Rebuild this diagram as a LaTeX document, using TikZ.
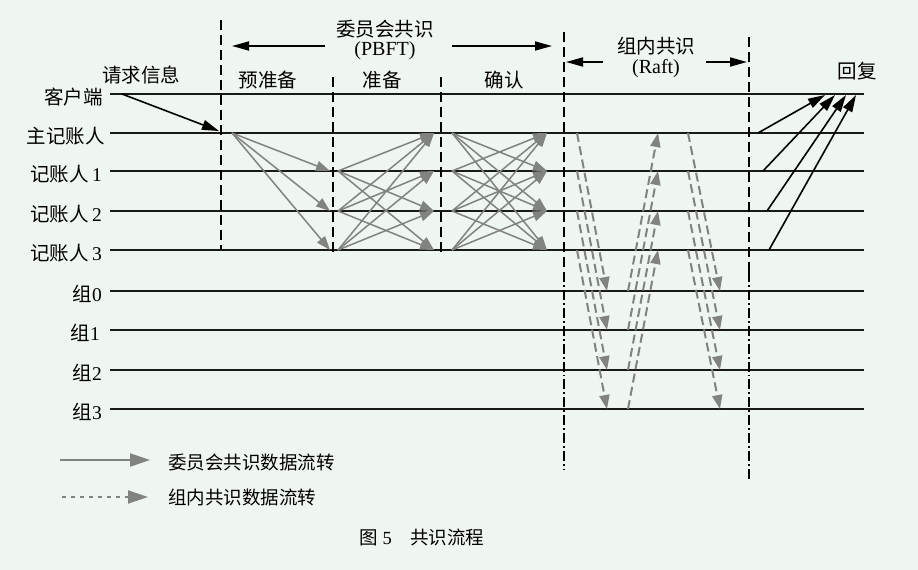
\documentclass[tikz,border=0pt]{standalone}
\usepackage{fontspec}
\setmainfont{Liberation Serif}
\newfontfamily\cjk{Noto Sans CJK SC}
\usetikzlibrary{arrows.meta}
\definecolor{bgc}{RGB}{239,245,239}
\definecolor{flow}{RGB}{128,131,127}
\begin{document}
\begin{tikzpicture}[x=1pt,y=-1pt,
  lane/.style={line width=1.6pt, draw=black!90},
  vdash/.style={line width=1.9pt, dash pattern=on 10pt off 5pt},
  vdashdot/.style={line width=1.9pt, dash pattern=on 10pt off 3pt on 1.9pt off 3pt},
  pbft/.style={draw=flow, line width=1.5pt, -{Triangle[length=14pt,width=10pt]}},
  raft/.style={draw=flow, line width=2pt, dash pattern=on 9pt off 4.5pt, -{Triangle[length=14pt,width=10pt]}},
  blk/.style={draw=black, line width=1.6pt, -{Triangle[length=17pt,width=10pt]}},
  span/.style={draw=black, line width=1.8pt, -{Triangle[length=17pt,width=9pt]}},
  lbl/.style={font=\fontsize{19.5pt}{22pt}\selectfont, inner sep=0pt},
  small/.style={font=\fontsize{18.5pt}{21pt}\selectfont, inner sep=0pt},
  ]
\fill[bgc] (0,0) rectangle (918,570);
\useasboundingbox (0,0) rectangle (918,570);

% lanes
\foreach \n/\y in {cl/94, p0/133, p1/171, p2/211, p3/250, g0/291, g1/330, g2/370, g3/409} {
  \coordinate (\n-L) at (110,\y);
  \coordinate (\n-R) at (864,\y);
  \draw[lane] (\n-L) -- (\n-R);
}

% lane labels
\node[lbl, anchor=east] (lab-cl) at (103,97) {\cjk 客户端};
\node[lbl, anchor=east] (lab-p0) at (105,136) {\cjk 主记账人};
\node[lbl, anchor=east] (lab-p1) at (102,174) {{\cjk 记账人}\,1};
\node[lbl, anchor=east] (lab-p2) at (102,214) {{\cjk 记账人}\,2};
\node[lbl, anchor=east] (lab-p3) at (102,253) {{\cjk 记账人}\,3};
\node[lbl, anchor=east] (lab-g0) at (102,294) {{\cjk 组}0};
\node[lbl, anchor=east] (lab-g1) at (100,333) {{\cjk 组}1};
\node[lbl, anchor=east] (lab-g2) at (102,373) {{\cjk 组}2};
\node[lbl, anchor=east] (lab-g3) at (102,412) {{\cjk 组}3};

% vertical separators
\coordinate (v1t) at (221,20);  \coordinate (v1b) at (221,250);
\coordinate (v2t) at (333,77);  \coordinate (v2b) at (333,255);
\coordinate (v3t) at (441,77);  \coordinate (v3b) at (441,255);
\coordinate (v4t) at (564,32);  \coordinate (v4m) at (564,272); \coordinate (v4b) at (564,470);
\coordinate (v5t) at (749,37);  \coordinate (v5m) at (749,272); \coordinate (v5b) at (749,481);
\draw[vdash] (v1t) -- (v1b);
\draw[vdash] (v2t) -- (v2b);
\draw[vdash] (v3t) -- (v3b);
\draw[vdash] (v4t) -- (v4m);
\draw[vdashdot] (v4m) -- (v4b);
\draw[vdash] (v5t) -- (v5m);
\draw[vdashdot] (v5m) -- (v5b);

% top spans
\coordinate (pb-l1) at (325,46); \coordinate (pb-l2) at (232,46);
\coordinate (pb-r1) at (452,46); \coordinate (pb-r2) at (552,46);
\draw[span] (pb-l1) -- (pb-l2);
\draw[span] (pb-r1) -- (pb-r2);
\node[lbl] (t-pbft1) at (385,29) {\cjk 委员会共识};
\node[lbl, font=\fontsize{20pt}{22pt}\selectfont] (t-pbft2) at (385,51) {(PBFT)};
\coordinate (rf-l1) at (603,62); \coordinate (rf-l2) at (566,62);
\coordinate (rf-r1) at (706,62); \coordinate (rf-r2) at (747,62);
\draw[span] (rf-l1) -- (rf-l2);
\draw[span] (rf-r1) -- (rf-r2);
\node[lbl] (t-raft1) at (656,46) {\cjk 组内共识};
\node[lbl, font=\fontsize{20pt}{22pt}\selectfont] (t-raft2) at (656,69) {(Raft)};

% phase labels
\node[lbl] (ph0) at (141,75) {\cjk 请求信息};
\node[lbl] (ph1) at (268,80) {\cjk 预准备};
\node[lbl] (ph2) at (382,80) {\cjk 准备};
\node[lbl] (ph3) at (504,80) {\cjk 确认};
\node[lbl] (ph4) at (857,71) {\cjk 回复};

% coordinates for flows
\foreach \i/\y in {0/133,1/171,2/211,3/250} {
  \coordinate (pp-t\i) at (330,\y);
  \coordinate (pr-s\i) at (338,\y);
  \coordinate (pr-t\i) at (434,\y);
  \coordinate (cm-s\i) at (452,\y);
  \coordinate (cm-t\i) at (547,\y);
  \coordinate (ra-s\i) at (577,\y);
  \coordinate (rb-t\i) at (658,\y);
  \coordinate (rc-s\i) at (688,\y);
}
\foreach \i/\y in {0/291,1/330,2/370,3/409} {
  \coordinate (ra-t\i) at (607,\y);
  \coordinate (rb-s\i) at (628,\y);
  \coordinate (rc-t\i) at (720,\y);
}
\coordinate (pp-s) at (232,133);
\coordinate (rq-s) at (122,94);
\coordinate (rq-t) at (219,131);

% request
\draw[blk] (rq-s) -- (rq-t);

% pre-prepare
\foreach \j in {1,2,3} { \draw[pbft] (pp-s) -- (pp-t\j); }
% prepare
\foreach \i in {1,2,3} { \foreach \j in {0,1,2,3} {
  \ifnum\i=\j\else \draw[pbft] (pr-s\i) -- (pr-t\j); \fi } }
% commit
\foreach \i in {0,1,2,3} { \foreach \j in {0,1,2,3} {
  \ifnum\i=\j\else \draw[pbft] (cm-s\i) -- (cm-t\j); \fi } }

% raft
\foreach \i in {0,1,2,3} {
  \draw[raft] (ra-s\i) -- (ra-t\i);
  \draw[raft] (rb-s\i) -- (rb-t\i);
  \draw[raft] (rc-s\i) -- (rc-t\i);
}

% reply
\foreach \i/\y/\xs/\xt in {0/133/758/825, 1/171/763/835, 2/211/767/846, 3/250/769/856} {
  \coordinate (rp-s\i) at (\xs,\y);
  \coordinate (rp-t\i) at (\xt,95);
  \draw[blk] (rp-s\i) -- (rp-t\i);
}

% legend
\coordinate (lg1-s) at (60,460); \coordinate (lg1-t) at (150,460);
\coordinate (lg2-s) at (62,497); \coordinate (lg2-t) at (148,497);
\draw[draw=flow, line width=2pt, -{Triangle[length=20pt,width=13pt]}] (lg1-s) -- (lg1-t);
\draw[draw=flow, line width=2pt, dash pattern=on 4pt off 5pt, -{Triangle[length=20pt,width=13pt]}] (lg2-s) -- (lg2-t);
\node[small, anchor=west] (lg1) at (168,462) {\cjk 委员会共识数据流转};
\node[small, anchor=west] (lg2) at (168,497) {\cjk 组内共识数据流转};

% caption
\node[small] (cap) at (422,537) {{\cjk 图}\ 5\quad{\cjk 共识流程}};
\end{tikzpicture}
\end{document}
